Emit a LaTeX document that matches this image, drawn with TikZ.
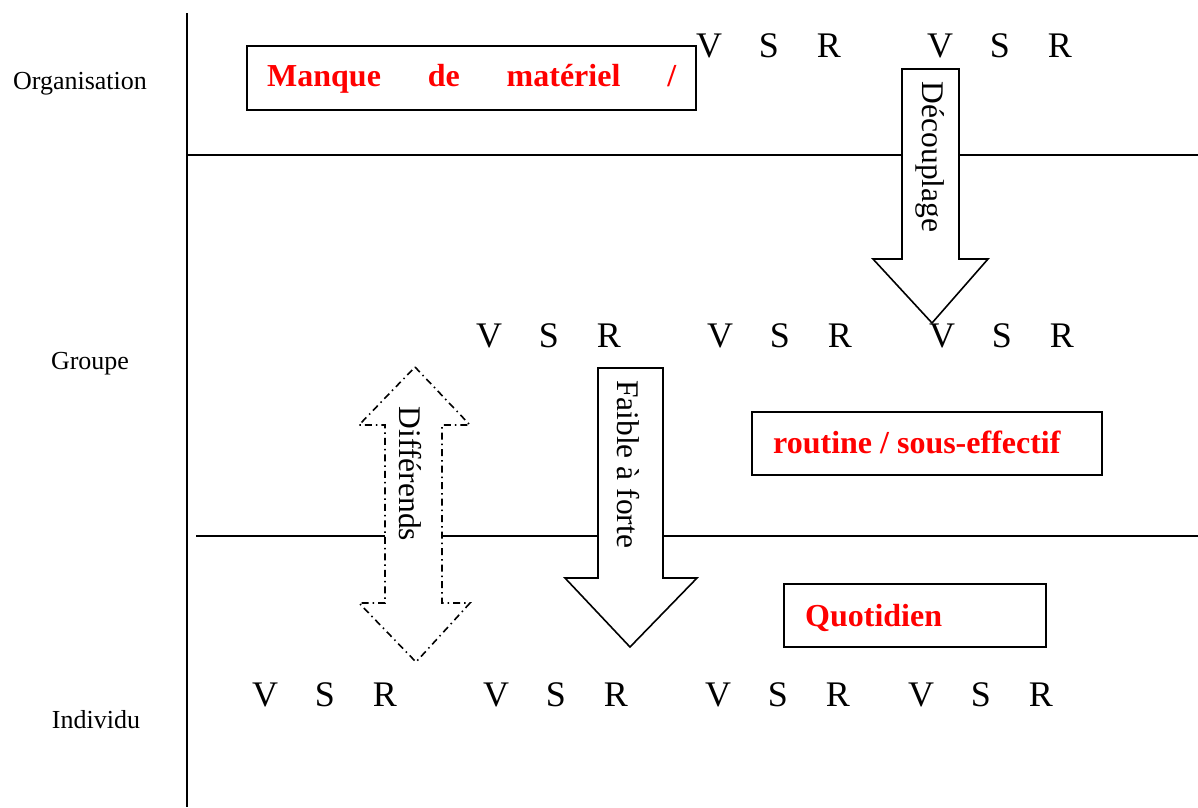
\documentclass[tikz,border=0pt]{standalone}
\usepackage{fontspec}
\setmainfont{Liberation Serif}
\newcommand\vsrtxt{\makebox[60pt]{V}\makebox[60pt]{S}\makebox[60pt]{R}}
\begin{document}
\begin{tikzpicture}[x=1pt,y=-1pt,
  rule/.style={line width=1.6pt},
  boxst/.style={draw, line width=2pt, inner sep=0pt},
  redtxt/.style={text=red, font=\fontsize{32}{38}\selectfont\bfseries, inner sep=0pt, anchor=base west},
  lvl/.style={font=\fontsize{26}{30}\selectfont, inner sep=0pt, anchor=base},
  vsr/.style={font=\fontsize{36}{40}\selectfont, inner sep=0pt, anchor=base},
  bigarrow/.style={draw, fill=white, line width=1.6pt, line join=miter},
  dd/.style={bigarrow, dash pattern=on 7pt off 4pt on 1.5pt off 4pt},
  arrtxt/.style={font=\fontsize{31.5}{35}\selectfont, rotate=-90, inner sep=0pt}]
\useasboundingbox (0,0) rectangle (1198,807);

% frame lines
\draw[rule] (187,13) -- (187,807);
\draw[rule] (187,155) -- (1198,155);
\draw[rule] (196,536) -- (1198,536);

% level labels
\node[lvl] (org) at (80,89) {Organisation};
\node[lvl] (grp) at (90,369) {Groupe};
\node[lvl] (ind) at (96,728) {Individu};

% boxes
\node[boxst, minimum width=449, minimum height=64] (b1) at (471.5,78) {};
\node[redtxt] (t1) at (267,86) {\hbox to 409pt{Manque\hfill de\hfill matériel\hfill /}};
\node[boxst, minimum width=350, minimum height=63] (b2) at (927,443.5) {};
\node[redtxt] (t2) at (773,453) {routine / sous-effectif};
\node[boxst, minimum width=262, minimum height=63] (b3) at (915,615.5) {};
\node[redtxt] (t3) at (805,626) {Quotidien};

% V S R groups
\node[vsr] (o1) at (769,57) {\vsrtxt};
\node[vsr] (o2) at (1000,57) {\vsrtxt};
\node[vsr] (g1) at (549,347) {\vsrtxt};
\node[vsr] (g2) at (780,347) {\vsrtxt};
\node[vsr] (g3) at (1002,347) {\vsrtxt};
\node[vsr] (i1) at (325,706) {\vsrtxt};
\node[vsr] (i2) at (556,706) {\vsrtxt};
\node[vsr] (i3) at (778,706) {\vsrtxt};
\node[vsr] (i4) at (981,706) {\vsrtxt};

% block arrows
\draw[bigarrow] (902,69) -- (959,69) -- (959,259) -- (988,259) -- (932,323) -- (873,259) -- (902,259) -- cycle;
\node[arrtxt] (a1) at (930,157) {Découplage};

\draw[bigarrow] (598,368) -- (663,368) -- (663,578) -- (697,578) -- (630,647) -- (565,578) -- (598,578) -- cycle;
\node[arrtxt] (a2) at (628,464) {Faible à forte};

\draw[dd] (415,367) -- (470,425) -- (442,425) -- (442,603) -- (470,603) -- (416,662) -- (359,603) -- (385,603) -- (385,425) -- (359,425) -- cycle;
\node[arrtxt] (a3) at (410,474) {Différends};
\end{tikzpicture}
\end{document}
